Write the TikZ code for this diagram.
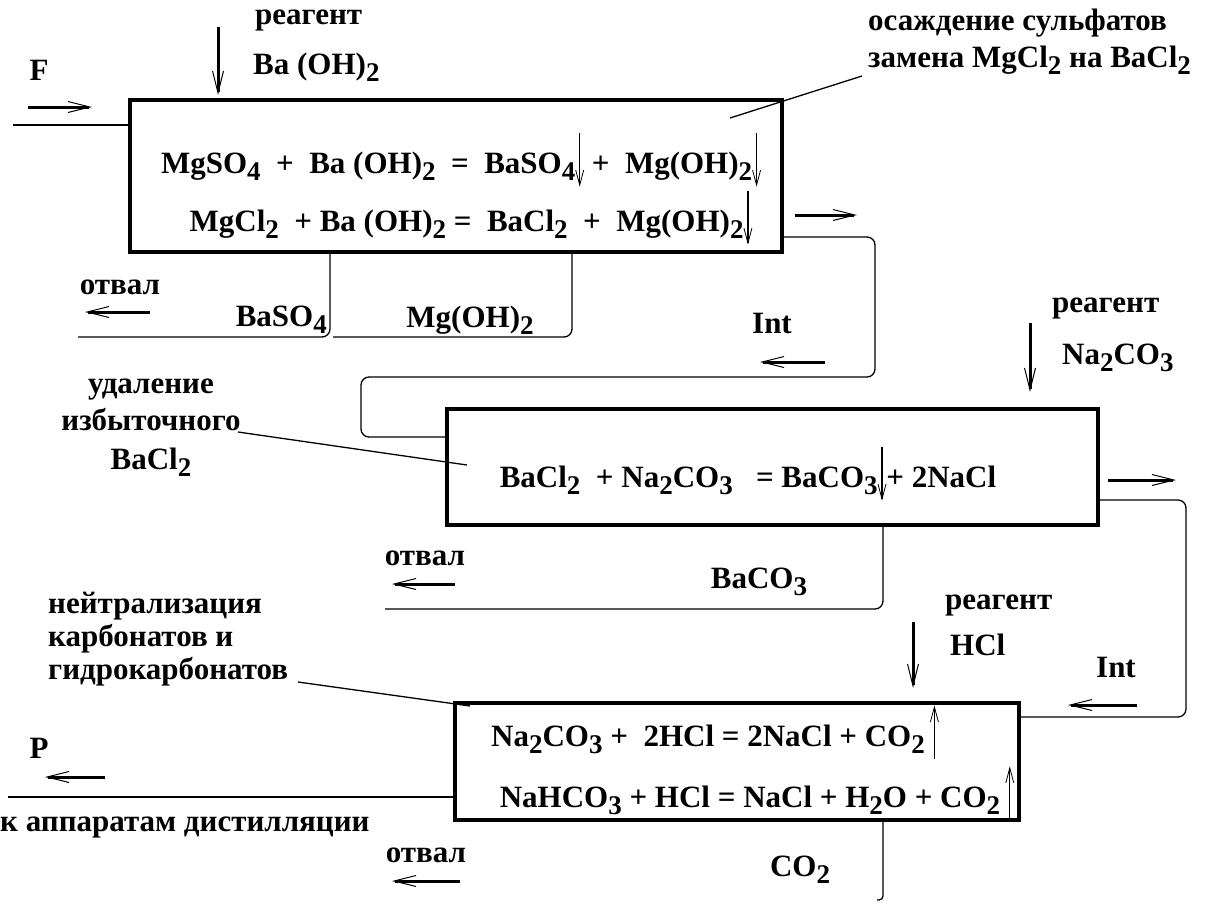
\documentclass[tikz,border=0pt]{standalone}
\usepackage{fontspec}
\setmainfont{Liberation Serif}[BoldFont={Liberation Serif Bold}]
\usepackage{tikz}
\usetikzlibrary{arrows.meta}

\newcommand\ind[1]{\raisebox{-0.5ex}{\fontsize{27}{27}\selectfont #1}}
\newcommand\dnarr{\tikz[baseline=-0.5ex]\draw[line width=1.4pt,-{Straight Barb[length=15pt,width=8pt,line width=0.8pt]}] (0,2.4ex) -- (0,-1.4ex);}
\newcommand\uparr{\tikz[baseline=-0.5ex]\draw[line width=1.4pt,-{Straight Barb[length=15pt,width=8pt,line width=0.8pt]}] (0,-1.4ex) -- (0,2.4ex);}

\begin{document}
\begin{tikzpicture}[x=1pt,y=-1pt,
    every node/.style={font=\bfseries\fontsize{31}{33}\selectfont, inner sep=0pt},
    reactor/.style={draw, line width=3.5pt, inner sep=0pt},
    pipe/.style={line width=1.3pt, rounded corners=8pt},
    flow/.style={line width=3pt, -{Straight Barb[length=22pt,width=11pt,line width=1pt]}},
    callout/.style={line width=1.3pt}
  ]
  \useasboundingbox (0,0) rectangle (1208,903);

  % reactors
  \node[reactor, minimum width=652pt, minimum height=152pt] (box1) at (456,176) {};
  \node[reactor, minimum width=651pt, minimum height=116pt] (box2) at (772.5,467) {};
  \node[reactor, minimum width=564pt, minimum height=117pt] (box3) at (737,761.5) {};

  % reactions
  \node (eq11) at (461,160) {MgSO\ind{4} \ + \ Ba (OH)\ind{2} \ = \ BaSO\ind{4}\dnarr\ + \ Mg(OH)\ind{2}\dnarr};
  \node (eq12) at (471,218) {MgCl\ind{2} \ + Ba (OH)\ind{2} = \ BaCl\ind{2} \ + \ Mg(OH)\ind{2}\dnarr};
  \node (eq21) at (748,474) {BaCl\ind{2} \ + Na\ind{2}CO\ind{3} \ \ = BaCO\ind{3}\dnarr + 2NaCl};
  \node (eq31) at (715,732) {Na\ind{2}CO\ind{3} + \ 2HCl = 2NaCl + CO\ind{2}\,\uparr};
  \node (eq32) at (757,793) {NaHCO\ind{3} + HCl = NaCl + H\ind{2}O + CO\ind{2}\,\uparr};

  % labels, stage 1
  \node (F) at (39,70) {F};
  \node[anchor=west] (reag1) at (255,20) {реагент};
  \node[anchor=west] (reag1b) at (253,67) {Ba (OH)\ind{2}};
  \node[anchor=west, align=left] (note1) at (868,42) {осаждение сульфатов\\[4pt]замена MgCl\ind{2} на BaCl\ind{2}};
  \node (otval1) at (120,287) {отвал};
  \node[anchor=east] (baso4) at (327,320) {BaSO\ind{4}};
  \node (mgoh) at (470,320) {Mg(OH)\ind{2}};
  \node (int1) at (772,323) {Int};

  % labels, stage 2
  \node[align=center] (note2) at (151,428) {удаление\\[4pt]избыточного\\[6pt]BaCl\ind{2}};
  \node[anchor=west] (reag2) at (1052,308) {реагент};
  \node[anchor=west] (reag2b) at (1062,358) {Na\ind{2}CO\ind{3}};
  \node (otval2) at (425,558) {отвал};
  \node (baco3) at (759,582) {BaCO\ind{3}};

  % labels, stage 3
  \node[anchor=west, align=left] (note3) at (48,639) {нейтрализация\\[0pt]карбонатов и\\[0pt]гидрокарбонатов};
  \node[anchor=west] (reag3) at (945,605) {реагент};
  \node[anchor=west] (reag3b) at (950,645) {HCl};
  \node (int2) at (1116,667) {Int};
  \node (P) at (39,748) {P};
  \node[anchor=west] (dist) at (0,827) {к аппаратам дистилляции};
  \node (otval3) at (426,855) {отвал};
  \node (co2) at (800,870) {CO\ind{2}};

  % pipes
  \draw[line width=1.3pt] (13,125) -- (box1.west |- 0,125);
  \draw[pipe] (box1.east |- 0,237) -- (875,237) -- (875,377) -- (361,377) -- (361,437) -- (box2.west |- 0,437);
  \draw[pipe] (box1.south -| 330,0) -- (330,337) -- (78,337);
  \draw[pipe] (box1.south -| 572,0) -- (572,337) -- (333,337);
  \draw[pipe] (box2.east |- 0,500) -- (1186,500) -- (1186,717) -- (box3.east |- 0,717);
  \draw[pipe] (box2.south -| 883,0) -- (883,609) -- (385,609);
  \draw[pipe] (box3.west |- 0,797) -- (8,797);
  \draw[pipe, rounded corners=4pt] (box3.south -| 883,0) -- (883,900) -- (877,900);

  % callouts
  \draw[callout] (730,118) -- (862,76);
  \draw[callout] (238,432) -- (467,465);
  \draw[callout] (298,682) -- (470,706);

  % stream arrows
  \draw[flow] (28,107) -- (92,107);
  \draw[flow] (218,27) -- (218,95);
  \draw[flow] (795,215) -- (857,215);
  \draw[flow] (150,312) -- (85,312);
  \draw[flow] (825,362) -- (760,362);
  \draw[flow] (1030,323) -- (1030,392);
  \draw[flow] (1108,480) -- (1176,480);
  \draw[flow] (455,584) -- (392,584);
  \draw[flow] (913,622) -- (913,688);
  \draw[flow] (1137,705) -- (1068,705);
  \draw[flow] (105,777) -- (45,777);
  \draw[flow] (460,881) -- (392,881);
\end{tikzpicture}
\end{document}
